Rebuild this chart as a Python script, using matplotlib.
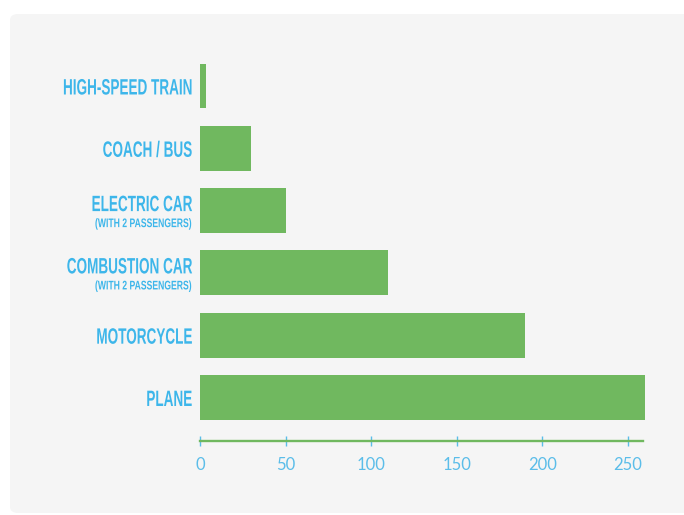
import matplotlib
matplotlib.use("Agg")
import matplotlib.pyplot as plt
from matplotlib.patches import FancyBboxPatch
from matplotlib.patheffects import AbstractPathEffect
from matplotlib.transforms import Affine2D
from matplotlib import font_manager

categories = ["PLANE", "MOTORCYCLE", "COMBUSTION CAR", "ELECTRIC CAR", "COACH / BUS", "HIGH-SPEED TRAIN"]
sublabels = ["", "", "(WITH 2 PASSENGERS)", "(WITH 2 PASSENGERS)", "", ""]
values = [260, 190, 110, 50, 30, 3.5]
xticks = [0, 50, 100, 150, 200, 250]

GREEN = "#70b85f"
BLUE = "#3db6ea"
TICKBLUE = "#5bbde9"
PANEL = "#f5f5f5"

names = {f.name for f in font_manager.fontManager.ttflist}
LFONT = "Liberation Sans Narrow" if "Liberation Sans Narrow" in names else "Liberation Sans"


class Scale(AbstractPathEffect):
    """Scale text glyphs around their anchor (text stays a Text artist)."""

    def __init__(self, text, sx=1.0, sy=1.0):
        super().__init__()
        self.text = text
        self.sx = sx
        self.sy = sy

    def draw_path(self, renderer, gc, tpath, affine, rgbFace=None):
        x0, y0 = self.text.get_transform().transform(self.text.get_position())
        aff = affine + Affine2D().translate(-x0, -y0).scale(self.sx, self.sy).translate(x0, y0)
        renderer.draw_path(gc, tpath, aff, rgbFace)


W, H = 684, 515
fig = plt.figure(figsize=(W / 100, H / 100), dpi=100)
fig.patch.set_facecolor("white")

panel = FancyBboxPatch((10 / W, 2 / H), (W + 20) / W, (H - 16) / H,
                       boxstyle="round,pad=0,rounding_size=0.012",
                       transform=fig.transFigure, facecolor=PANEL,
                       edgecolor="none", zorder=-10)
fig.patches.append(panel)

left, right = 200 / W, 645 / W
top, bottom = 50 / H, 441 / H
ax = fig.add_axes([left, 1 - bottom, right - left, bottom - top])
ax.set_zorder(5)
ax.set_facecolor("none")

ypos = list(range(len(categories)))
ax.barh(ypos, values, height=0.72, color=GREEN, zorder=2)
ax.set_xlim(0, 260)
ax.set_ylim(-0.698, 5.578)

for s in ["top", "right", "left"]:
    ax.spines[s].set_visible(False)
ax.spines["bottom"].set_color(GREEN)
ax.spines["bottom"].set_linewidth(1.7)
ax.spines["bottom"].set_bounds(0, 258.8)

ax.set_yticks([])
ax.set_xticks(xticks)
ax.set_xticklabels([str(t) for t in xticks], fontsize=12, color=TICKBLUE,
                   family="Lato")
ax.tick_params(axis="x", colors=TICKBLUE, direction="inout", length=6.5,
               width=1, pad=8)
for lab in ax.get_xticklabels():
    lab.set_color(TICKBLUE)

MAIN_FS, SUB_FS = 11, 7
xl = -8 * 260 / 445
main_texts, sub_texts = [], []
for y, name, sub in zip(ypos, categories, sublabels):
    if sub:
        t = ax.text(xl, y - 0.008, name, ha="right", va="baseline",
                    fontsize=MAIN_FS, color=BLUE, fontweight="bold", family=LFONT)
        s = ax.text(xl, y - 0.265, sub, ha="right", va="baseline",
                    fontsize=SUB_FS, color=BLUE, fontweight="bold", family=LFONT)
        main_texts.append(t)
        sub_texts.append(s)
    else:
        t = ax.text(xl, y - 0.136, name, ha="right", va="baseline",
                    fontsize=MAIN_FS, color=BLUE, fontweight="bold", family=LFONT)
        main_texts.append(t)

fig.canvas.draw()
r = fig.canvas.get_renderer()
w_main = main_texts[-1].get_window_extent(r).width
w_sub = sub_texts[0].get_window_extent(r).width
sx_main = 129.0 / w_main
sx_sub = 97.0 / w_sub
for t in main_texts:
    t.set_path_effects([Scale(t, sx_main, 16.0 / MAIN_FS)])
for t in sub_texts:
    t.set_path_effects([Scale(t, sx_sub, 9.0 / SUB_FS)])

fig.savefig("out.png", dpi=100, facecolor="white")
